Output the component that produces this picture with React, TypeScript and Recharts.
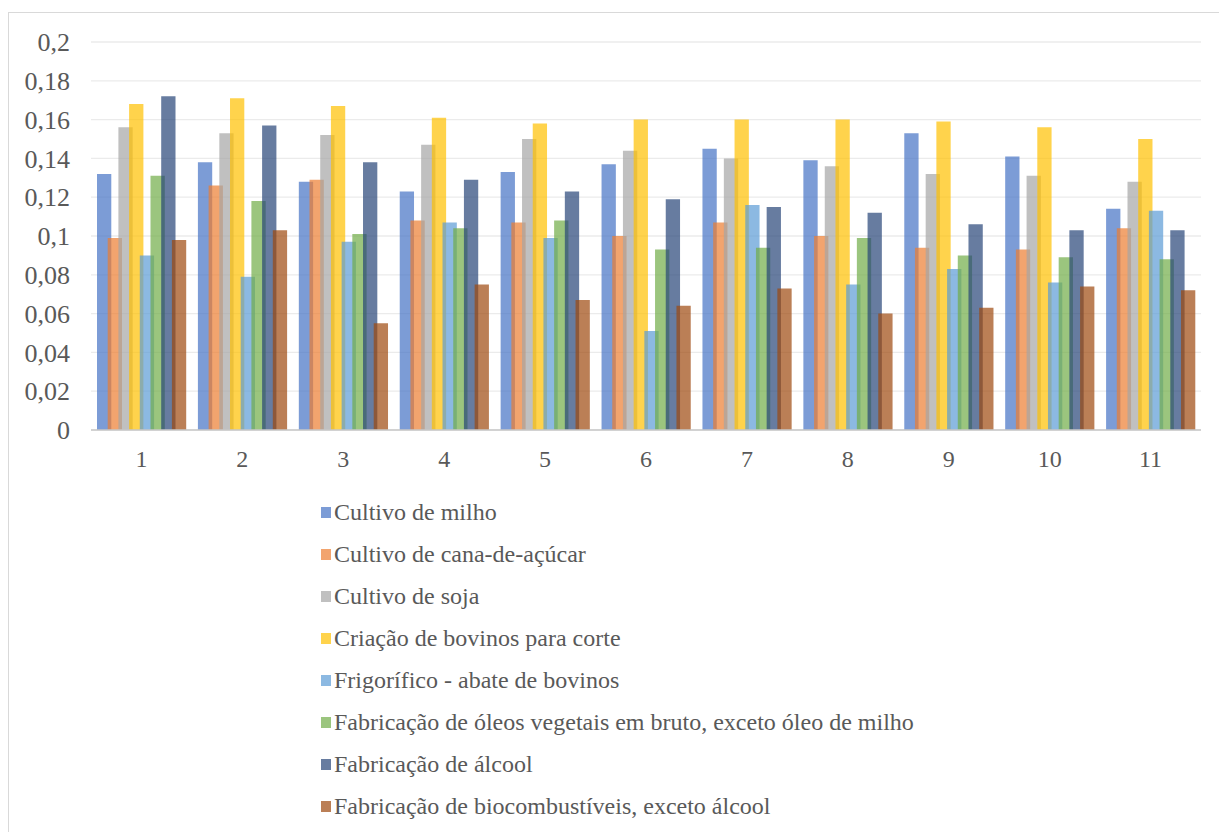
import React from "react";
import { BarChart, Bar, XAxis, YAxis, CartesianGrid, Legend } from "recharts";

const categories = ["1", "2", "3", "4", "5", "6", "7", "8", "9", "10", "11"];

const cultivoMilho = [0.132, 0.138, 0.128, 0.123, 0.133, 0.137, 0.145, 0.139, 0.153, 0.141, 0.114];
const cultivoCana = [0.099, 0.126, 0.129, 0.108, 0.107, 0.1, 0.107, 0.1, 0.094, 0.093, 0.104];
const cultivoSoja = [0.156, 0.153, 0.152, 0.147, 0.15, 0.144, 0.14, 0.136, 0.132, 0.131, 0.128];
const criacaoBovinos = [0.168, 0.171, 0.167, 0.161, 0.158, 0.16, 0.16, 0.16, 0.159, 0.156, 0.15];
const frigorifico = [0.09, 0.079, 0.097, 0.107, 0.099, 0.051, 0.116, 0.075, 0.083, 0.076, 0.113];
const oleosVegetais = [0.131, 0.118, 0.101, 0.104, 0.108, 0.093, 0.094, 0.099, 0.09, 0.089, 0.088];
const fabAlcool = [0.172, 0.157, 0.138, 0.129, 0.123, 0.119, 0.115, 0.112, 0.106, 0.103, 0.103];
const biocombustiveis = [0.098, 0.103, 0.055, 0.075, 0.067, 0.064, 0.073, 0.06, 0.063, 0.074, 0.072];

const yTicks = [0, 0.02, 0.04, 0.06, 0.08, 0.1, 0.12, 0.14, 0.16, 0.18, 0.2];

const series = [
  { key: "milho", name: "Cultivo de milho", values: cultivoMilho, color: "#4472C4" },
  { key: "cana", name: "Cultivo de cana-de-açúcar", values: cultivoCana, color: "#ED7D31" },
  { key: "soja", name: "Cultivo de soja", values: cultivoSoja, color: "#A5A5A5" },
  { key: "bovinos", name: "Criação de bovinos para corte", values: criacaoBovinos, color: "#FFC000" },
  { key: "frigorifico", name: "Frigorífico - abate de bovinos", values: frigorifico, color: "#5B9BD5" },
  { key: "oleos", name: "Fabricação de óleos vegetais em bruto, exceto óleo de milho", values: oleosVegetais, color: "#70AD47" },
  { key: "alcool", name: "Fabricação de álcool", values: fabAlcool, color: "#264478" },
  { key: "bio", name: "Fabricação de biocombustíveis, exceto álcool", values: biocombustiveis, color: "#9E480E" },
];

const data = categories.map((c, i) => {
  const row: Record<string, string | number> = { name: c };
  series.forEach((s) => {
    row[s.key] = s.values[i];
  });
  return row;
});

const font = "Liberation Serif";
const textColor = "#595959";

const LegendList = () => (
  <div style={{ fontFamily: font, fontSize: 24, color: textColor }}>
    {series.map((s) => (
      <div key={s.key} style={{ height: 42, display: "flex", alignItems: "center", whiteSpace: "nowrap" }}>
        <span
          style={{
            display: "inline-block",
            width: 10,
            height: 11,
            background: s.color,
            opacity: 0.7,
            marginRight: 3,
          }}
        />
        <span>{s.name}</span>
      </div>
    ))}
  </div>
);

export default function App() {
  return (
    <div
      style={{
        position: "fixed",
        left: 8,
        top: 12,
        width: 1212,
        height: 840,
        border: "1px solid #D9D9D9",
        background: "#fff",
      }}
    >
      <BarChart
        width={1210}
        height={830}
        data={data}
        margin={{ top: 29, right: 18, left: 0, bottom: 383 }}
        barSize={14.3}
        barGap={-3.6}
      >
        <CartesianGrid vertical={false} stroke="#EBEBEB" strokeWidth={1.3} />
        <XAxis
          dataKey="name"
          height={30}
          tickLine={false}
          tickMargin={14}
          axisLine={{ stroke: "#C8C8C8", strokeWidth: 1.5 }}
          tick={{ fontFamily: font, fontSize: 24, fill: textColor }}
        />
        <YAxis
          width={82}
          domain={[0, 0.2]}
          ticks={yTicks}
          interval={0}
          axisLine={false}
          tickLine={false}
          tickMargin={15}
          tickFormatter={(v: number) => String(v).replace(".", ",")}
          tick={{ fontFamily: font, fontSize: 26, fill: textColor }}
        />
        <Legend
          layout="vertical"
          align="center"
          verticalAlign="middle"
          wrapperStyle={{ top: 478, left: 312, width: "auto" }}
          content={() => <LegendList />}
        />
        {series.map((s) => (
          <Bar
            key={s.key}
            dataKey={s.key}
            name={s.name}
            fill={s.color}
            fillOpacity={0.7}
            isAnimationActive={false}
          />
        ))}
      </BarChart>
    </div>
  );
}
